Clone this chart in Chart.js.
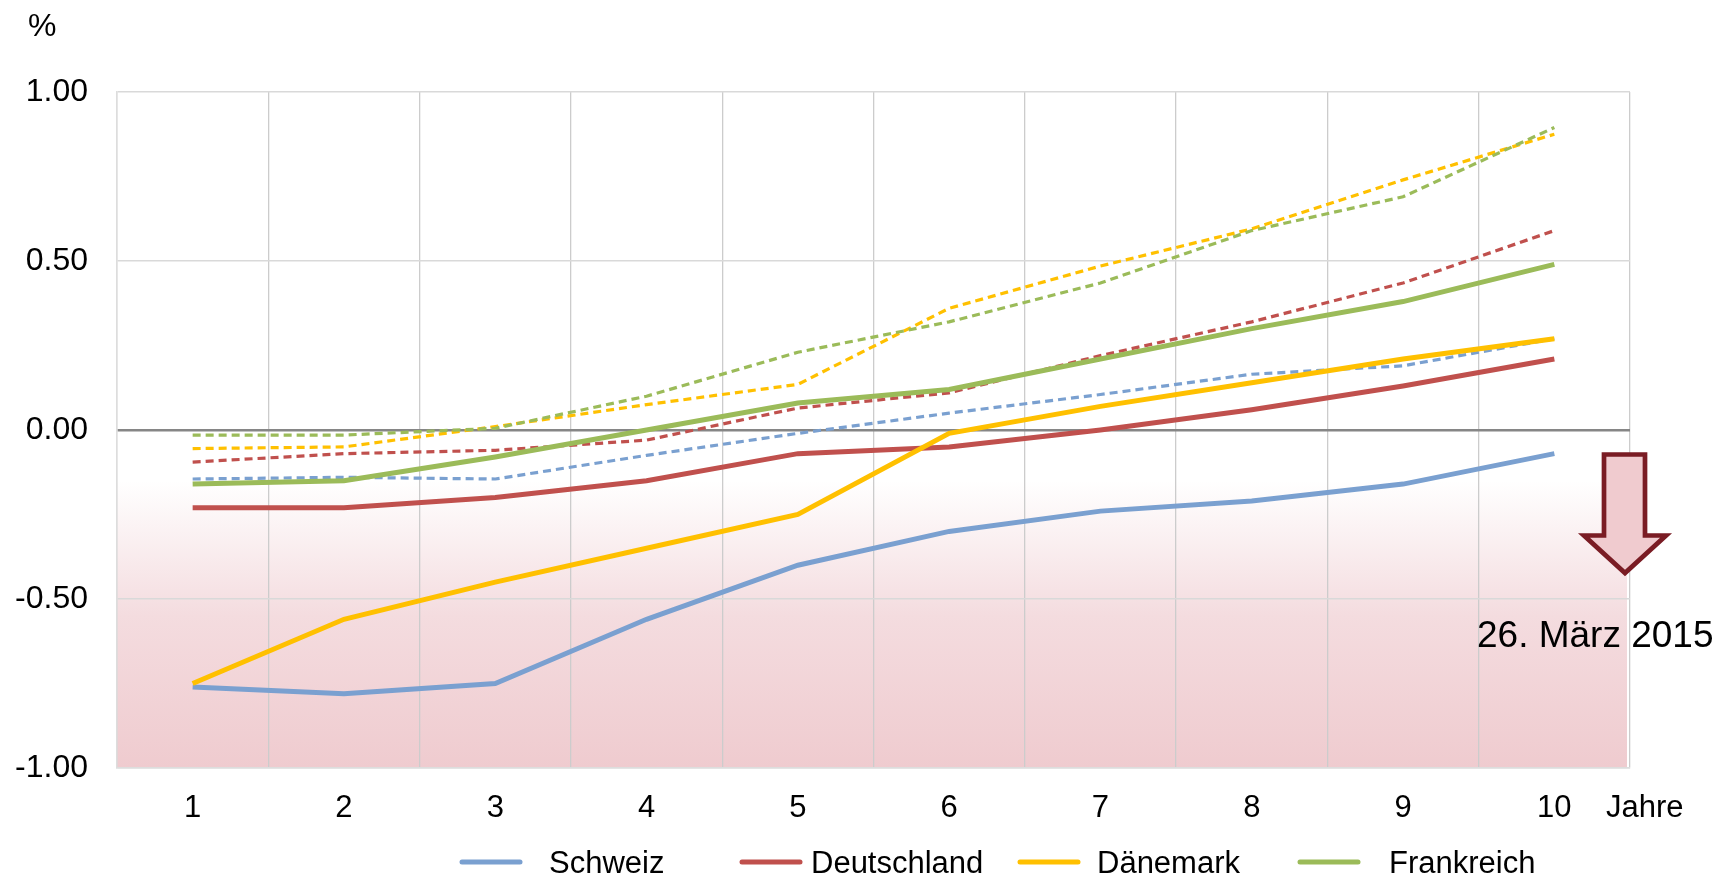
<!DOCTYPE html>
<html>
<head>
<meta charset="utf-8">
<script src="https://cdn.jsdelivr.net/npm/chart.js@4/dist/chart.umd.min.js"></script>
<style>
  body { margin: 0; background: #fff; }
  #wrap { width: 1731px; height: 878px; }
</style>
</head>
<body>
<div id="wrap"><canvas id="yieldChart" width="1731" height="878"></canvas></div>
<script>
// --- Daten ---
const years = ['1', '2', '3', '4', '5', '6', '7', '8', '9', '10'];
const yTicks = [-1, -0.5, 0, 0.5, 1];

const countries = ['Schweiz', 'Deutschland', 'Dänemark', 'Frankreich'];
const colors = ['#7AA0D0', '#C0504D', '#FFC000', '#9BBB59'];

// aktuelle Kurven (26. März 2015)
const schweiz     = [-0.76, -0.78, -0.75, -0.56, -0.40, -0.30, -0.24, -0.21, -0.16, -0.07];
const deutschland = [-0.23, -0.23, -0.20, -0.15, -0.07, -0.05, 0.00, 0.06, 0.13, 0.21];
const daenemark   = [-0.75, -0.56, -0.45, -0.35, -0.25, -0.01, 0.07, 0.14, 0.21, 0.27];
const frankreich  = [-0.16, -0.15, -0.08, 0.00, 0.08, 0.12, 0.21, 0.30, 0.38, 0.49];

// frühere Kurven (gestrichelt)
const schweizAlt     = [-0.145, -0.14, -0.145, -0.075, -0.01, 0.05, 0.105, 0.165, 0.19, 0.27];
const deutschlandAlt = [-0.095, -0.07, -0.06, -0.03, 0.065, 0.11, 0.22, 0.32, 0.435, 0.59];
const daenemarkAlt   = [-0.055, -0.05, 0.01, 0.075, 0.135, 0.36, 0.485, 0.595, 0.74, 0.875];
const frankreichAlt  = [-0.015, -0.015, 0.005, 0.10, 0.23, 0.32, 0.435, 0.59, 0.69, 0.895];

const current = [schweiz, deutschland, daenemark, frankreich];
const previous = [schweizAlt, deutschlandAlt, daenemarkAlt, frankreichAlt];

const FONT = "'Liberation Sans', Arial, sans-serif";

const datasets = [];
current.forEach((data, i) => {
  datasets.push({
    label: countries[i],
    data: data,
    borderColor: colors[i],
    backgroundColor: colors[i],
    borderWidth: 5,
    pointRadius: 0,
    tension: 0,
    order: 4 - i
  });
});
previous.forEach((data, i) => {
  datasets.push({
    label: countries[i] + ' (früher)',
    data: data,
    borderColor: colors[i],
    backgroundColor: colors[i],
    borderWidth: 3.2,
    borderDash: [8, 5],
    pointRadius: 0,
    tension: 0,
    order: 8 - i
  });
});

// rosa Verlauf unterhalb der Nulllinie
const negativeArea = {
  id: 'negativeArea',
  beforeDraw(chart) {
    const { ctx, chartArea } = chart;
    const y = chart.scales.y;
    const y0 = y.getPixelForValue(0);
    const grad = ctx.createLinearGradient(0, y0, 0, chartArea.bottom);
    grad.addColorStop(0, '#ffffff');
    grad.addColorStop(0.15, '#ffffff');
    grad.addColorStop(0.55, '#F4DCDF');
    grad.addColorStop(1, '#EFCBCF');
    ctx.save();
    ctx.fillStyle = grad;
    ctx.fillRect(chartArea.left, y0, chartArea.right - chartArea.left - 3, chartArea.bottom - y0);
    ctx.restore();
  }
};

// Beschriftungen, Pfeil und Legende
const extras = {
  id: 'extras',
  afterDraw(chart) {
    const { ctx } = chart;
    ctx.save();
    ctx.fillStyle = '#000';
    ctx.textBaseline = 'alphabetic';
    ctx.textAlign = 'left';
    ctx.font = '32px ' + FONT;
    ctx.fillText('%', 28, 36);
    ctx.font = '31px ' + FONT;
    ctx.fillText('Jahre', 1606, 817);
    ctx.font = '37px ' + FONT;
    ctx.fillText('26. März 2015', 1477, 647);

    // Pfeil
    ctx.beginPath();
    ctx.moveTo(1604, 454.5);
    ctx.lineTo(1645, 454.5);
    ctx.lineTo(1645, 535.5);
    ctx.lineTo(1666, 535.5);
    ctx.lineTo(1625, 573);
    ctx.lineTo(1584, 535.5);
    ctx.lineTo(1604, 535.5);
    ctx.closePath();
    ctx.fillStyle = '#F0CBCF';
    ctx.fill();
    ctx.lineWidth = 4.7;
    ctx.lineJoin = 'miter';
    ctx.strokeStyle = '#7A1C24';
    ctx.stroke();

    // Legende
    const lineX = [462, 742, 1020, 1300];
    const textX = [549, 811, 1097, 1389];
    const ly = 862;
    ctx.font = '31px ' + FONT;
    ctx.textBaseline = 'middle';
    countries.forEach((name, i) => {
      ctx.beginPath();
      ctx.moveTo(lineX[i], ly);
      ctx.lineTo(lineX[i] + 58, ly);
      ctx.lineWidth = 5;
      ctx.lineCap = 'round';
      ctx.strokeStyle = colors[i];
      ctx.stroke();
      ctx.fillStyle = '#000';
      ctx.fillText(name, textX[i], ly + 2);
    });
    ctx.restore();
  }
};

new Chart(document.getElementById('yieldChart').getContext('2d'), {
  type: 'line',
  data: { labels: years, datasets: datasets },
  options: {
    responsive: false,
    animation: false,
    devicePixelRatio: 1,
    layout: { padding: { top: 92, right: 101, bottom: 0, left: 0 } },
    plugins: {
      legend: { display: false },
      tooltip: { enabled: false }
    },
    scales: {
      x: {
        offset: true,
        grid: { offset: true, color: '#CCCCCC', lineWidth: 1.3, drawTicks: false },
        border: { color: '#DDDDDD', width: 1.5 },
        ticks: { color: '#000', font: { family: FONT, size: 31 }, padding: 22, maxRotation: 0 },
        afterFit(scale) { scale.height = 110; }
      },
      y: {
        min: -1,
        max: 1,
        afterBuildTicks(scale) { scale.ticks = yTicks.map(v => ({ value: v })); },
        grid: {
          drawTicks: false,
          color: ctx => (ctx.tick && ctx.tick.value === 0 ? '#868686' : '#D9D9D9'),
          lineWidth: ctx => (ctx.tick && ctx.tick.value === 0 ? 2.5 : 1.5)
        },
        border: { color: '#DDDDDD', width: 1.5 },
        ticks: {
          color: '#000',
          font: { family: FONT, size: 32 },
          padding: 29,
          callback: v => v.toFixed(2)
        },
        afterFit(scale) { scale.width = 117; }
      }
    }
  },
  plugins: [negativeArea, extras]
});
</script>
</body>
</html>
